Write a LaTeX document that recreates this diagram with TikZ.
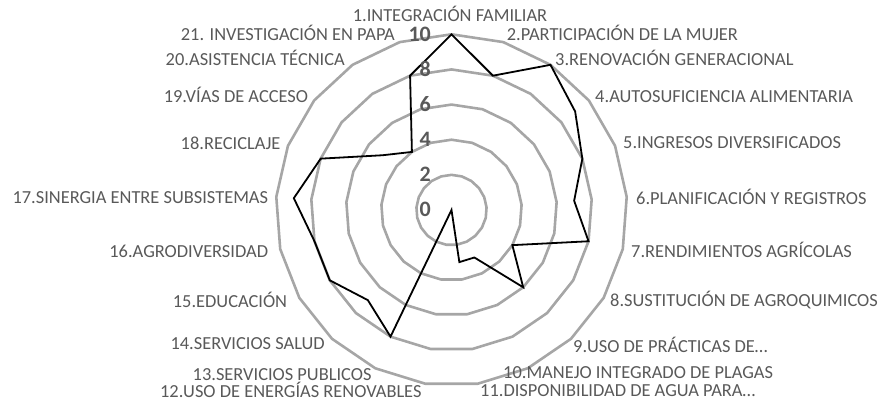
\documentclass[tikz,border=0pt]{standalone}
\usepackage{fontspec}
\setmainfont{Carlito}
\definecolor{ringgray}{HTML}{A6A6A6}
\definecolor{txtgray}{HTML}{595959}
\begin{document}
\begin{tikzpicture}[x=1pt,y=1pt,
  ring/.style={draw=ringgray,line width=2.6pt,line join=round},
  dataline/.style={draw=black,line width=1.8pt,line join=miter},
  lab/.style={text=txtgray,font=\fontsize{18.4}{19}\selectfont,inner sep=0pt,text height=11.8pt,text depth=0pt},
  tick/.style={text=txtgray,font=\fontsize{22}{23}\selectfont\bfseries,inner sep=0pt,anchor=east,text height=13.9pt,text depth=0pt}]
\useasboundingbox (0,0) rectangle (886,-403);
\begin{scope}[shift={(451.5,-210)}]
  \foreach \v in {2,4,6,8,10}{
    \draw[ring] (90:{\v*17.57}) \foreach \k in {1,...,20}{ -- ({90-\k*360/21}:{\v*17.57})} -- cycle;
  }
  \foreach [count=\i] \v in {10,8,10,9,8,7,8,4,6,3,3,0,8,7,8,8,9,8,5,4,8}{
    \coordinate (d\i) at ({90-(\i-1)*360/21}:{\v*17.57});
  }
  \draw[dataline] (d1) -- (d2) -- (d3) -- (d4) -- (d5) -- (d6) -- (d7) -- (d8) -- (d9) -- (d10) -- (d11) -- (d12) -- (d13) -- (d14) -- (d15) -- (d16) -- (d17) -- (d18) -- (d19) -- (d20) -- (d21) -- cycle;
\end{scope}
\node[tick] (t0) at (431,-210) {0};
\node[tick] (t2) at (431,-174.9) {2};
\node[tick] (t4) at (431,-139.7) {4};
\node[tick] (t6) at (431,-104.6) {6};
\node[tick] (t8) at (431,-69.4) {8};
\node[tick] (t10) at (431,-34.3) {10};
\node[lab,anchor=center] (l1) at (450,-16) {1.INTEGRACIÓN FAMILIAR};
\node[lab,anchor=west] (l2) at (506.7,-35) {2.PARTICIPACIÓN DE LA MUJER};
\node[lab,anchor=west] (l3) at (555,-59.5) {3.RENOVACIÓN GENERACIONAL};
\node[lab,anchor=west] (l4) at (595,-97) {4.AUTOSUFICIENCIA ALIMENTARIA};
\node[lab,anchor=west] (l5) at (623,-143) {5.INGRESOS DIVERSIFICADOS};
\node[lab,anchor=west] (l6) at (636,-198.5) {6.PLANIFICACIÓN Y REGISTROS};
\node[lab,anchor=west] (l7) at (631,-252) {7.RENDIMIENTOS AGRÍCOLAS};
\node[lab,anchor=west] (l8) at (610,-301) {8.SUSTITUCIÓN DE AGROQUIMICOS};
\node[lab,anchor=west] (l9) at (573,-347) {9.USO DE PRÁCTICAS DE…};
\node[lab,anchor=west] (l10) at (503,-372.5) {10.MANEJO INTEGRADO DE PLAGAS};
\node[lab,anchor=west] (l11) at (480,-391) {11.DISPONIBILIDAD DE AGUA PARA…};
\node[lab,anchor=east] (l12) at (421.7,-391.5) {12.USO DE ENERGÍAS RENOVABLES};
\node[lab,anchor=east] (l13) at (371.7,-374.5) {13.SERVICIOS PUBLICOS};
\node[lab,anchor=east] (l14) at (325,-344) {14.SERVICIOS SALUD};
\node[lab,anchor=east] (l15) at (287.3,-301.7) {15.EDUCACIÓN};
\node[lab,anchor=east] (l16) at (268.3,-251.7) {16.AGRODIVERSIDAD};
\node[lab,anchor=east] (l17) at (268.3,-198) {17.SINERGIA ENTRE SUBSISTEMAS};
\node[lab,anchor=east] (l18) at (280.7,-143.3) {18.RECICLAJE};
\node[lab,anchor=east] (l19) at (308.3,-96.7) {19.VÍAS DE ACCESO};
\node[lab,anchor=east] (l20) at (345,-59.3) {20.ASISTENCIA TÉCNICA};
\node[lab,anchor=east] (l21) at (395,-35) {21. INVESTIGACIÓN EN PAPA};
\end{tikzpicture}
\end{document}
